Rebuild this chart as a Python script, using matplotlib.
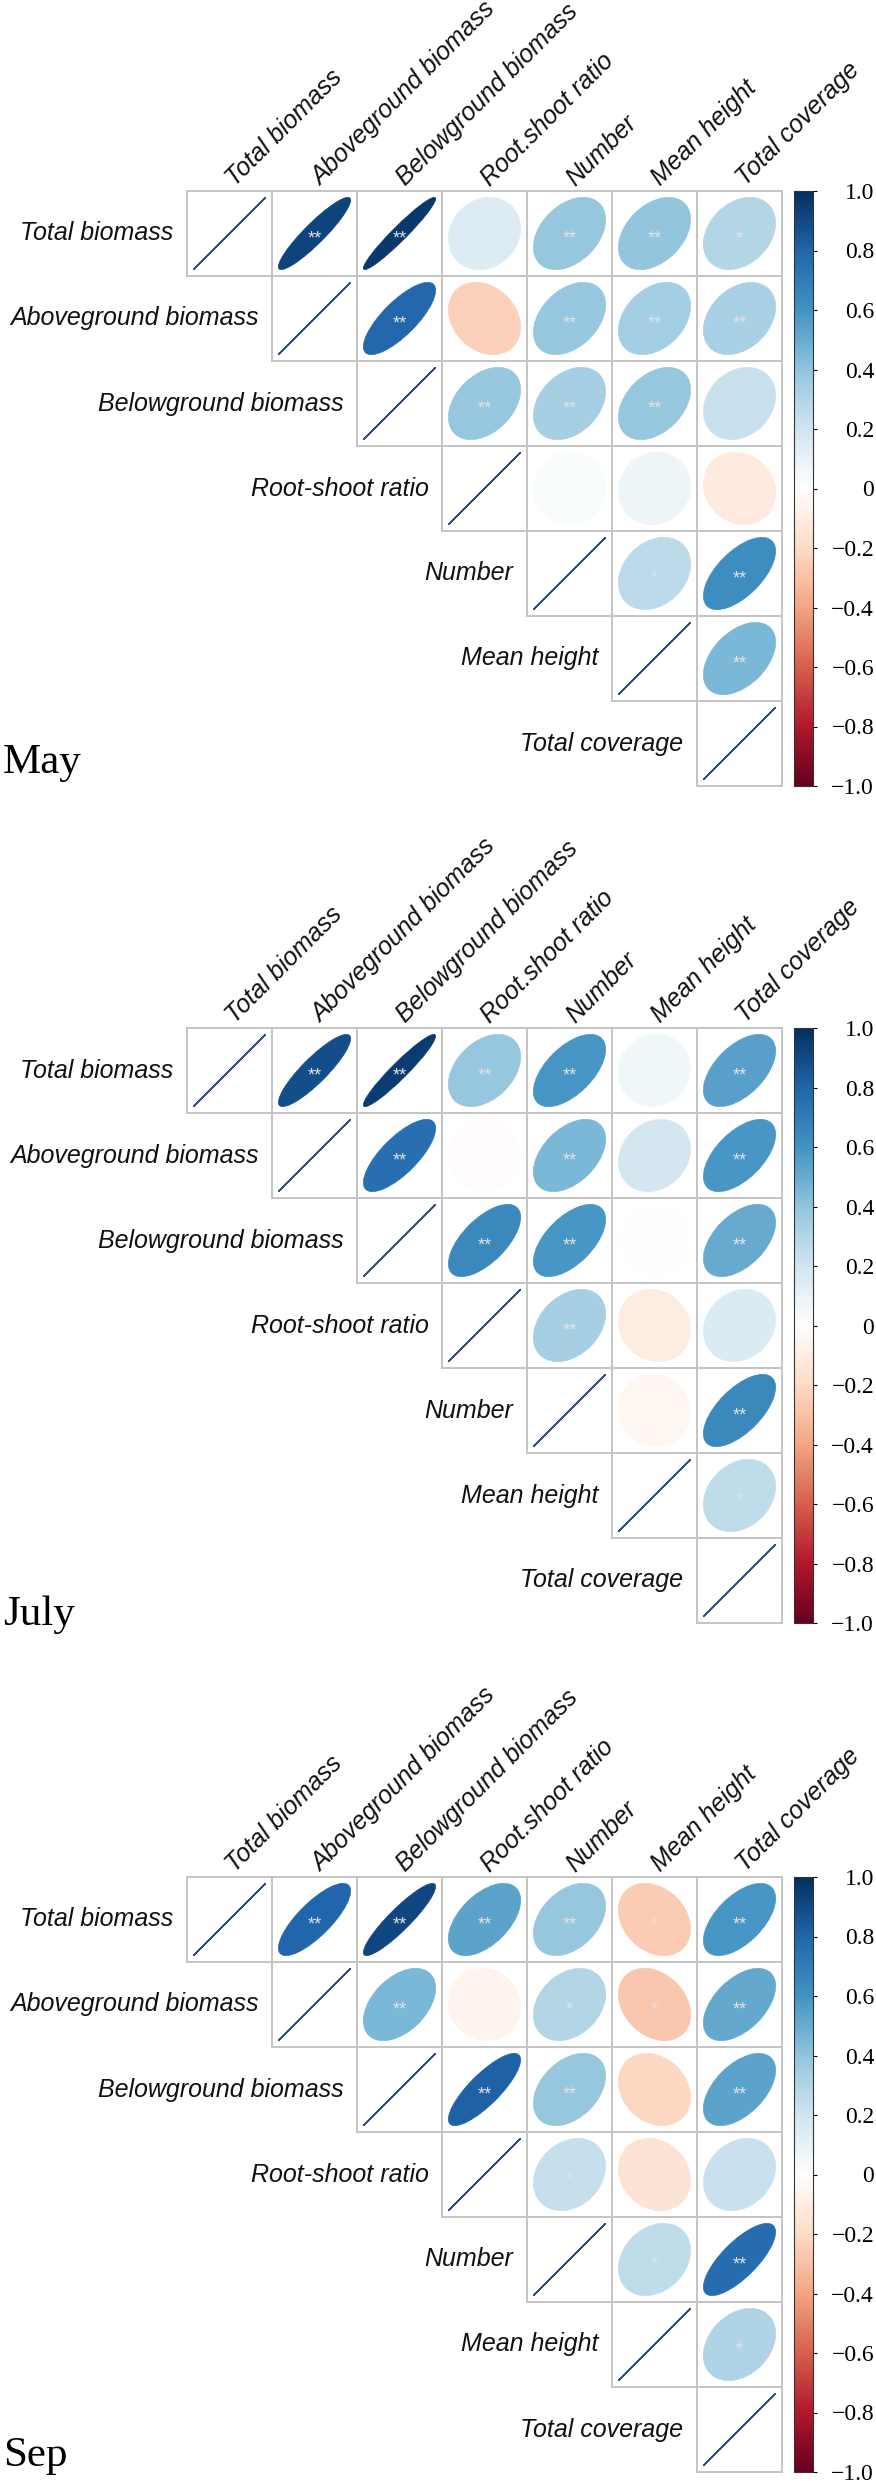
import numpy as np
import matplotlib
matplotlib.use("Agg")
import matplotlib.pyplot as plt
from matplotlib.patches import Ellipse, Rectangle
from matplotlib.colors import LinearSegmentedColormap, Normalize
from matplotlib.colorbar import ColorbarBase

ROW_LABELS = ["Total biomass", "Aboveground biomass", "Belowground biomass",
              "Root-shoot ratio", "Number", "Mean height", "Total coverage"]
COL_LABELS = ["Total biomass", "Aboveground biomass", "Belowground biomass",
              "Root.shoot ratio", "Number", "Mean height", "Total coverage"]
MONTHS = ["May", "July", "Sep"]

# upper triangle (above the diagonal), row by row
MAY_R = [
    [0.92, 0.96, 0.14, 0.38, 0.39, 0.29],
    [0.78, -0.24, 0.38, 0.34, 0.32],
    [0.38, 0.33, 0.38, 0.22],
    [0.02, 0.07, -0.12],
    [0.26, 0.62],
    [0.45],
]
MAY_SIG = [
    ["**", "**", "", "**", "**", "*"],
    ["**", "", "**", "**", "**"],
    ["**", "**", "**", ""],
    ["", "", ""],
    ["*", "**"],
    ["**"],
]
JULY_R = [
    [0.88, 0.95, 0.38, 0.58, 0.06, 0.54],
    [0.75, -0.02, 0.45, 0.18, 0.58],
    [0.64, 0.58, -0.01, 0.50],
    [0.33, -0.11, 0.16],
    [-0.05, 0.64],
    [0.25],
]
JULY_SIG = [
    ["**", "**", "**", "**", "", "**"],
    ["**", "", "**", "", "**"],
    ["**", "**", "", "**"],
    ["**", "", ""],
    ["", "**"],
    ["*"],
]
SEP_R = [
    [0.79, 0.91, 0.53, 0.38, -0.26, 0.58],
    [0.45, -0.07, 0.29, -0.28, 0.51],
    [0.82, 0.38, -0.22, 0.53],
    [0.23, -0.16, 0.22],
    [0.25, 0.76],
    [0.30],
]
SEP_SIG = [
    ["**", "**", "**", "**", "*", "**"],
    ["**", "", "*", "*", "**"],
    ["**", "**", "", "**"],
    ["*", "", ""],
    ["*", "**"],
    ["*"],
]
PANELS = [(MAY_R, MAY_SIG), (JULY_R, JULY_SIG), (SEP_R, SEP_SIG)]
CBAR_TICKS = [1.0, 0.8, 0.6, 0.4, 0.2, 0.0, -0.2, -0.4, -0.6, -0.8, -1.0]

RDBU = ["#67001F", "#B2182B", "#D6604D", "#F4A582", "#FDDBC7", "#FFFFFF",
        "#D1E5F0", "#92C5DE", "#4393C3", "#2166AC", "#053061"]
cmap = LinearSegmentedColormap.from_list("corr", RDBU, N=200)
norm = Normalize(-1, 1)

W, H = 876, 2481
GRID_LEFT, CELL = 187, 85
TOPS = [191, 1028, 1877]
MONTH_BASE = [773, 1625, 2466]
N = len(ROW_LABELS)

fig = plt.figure(figsize=(W / 100, H / 100), dpi=100)
lab_font = dict(family=["Liberation Sans", "DejaVu Sans"], style="italic",
                size=18, color="#111111")


def cell_ellipse(r, xc, yc, **kw):
    return Ellipse((xc, yc), width=0.85 * np.sqrt(1 + r),
                   height=0.85 * np.sqrt(max(1 - r, 0)), angle=45, **kw)


for k, (vals, sigs) in enumerate(PANELS):
    top = TOPS[k]
    side = N * CELL
    ax = fig.add_axes([GRID_LEFT / W, 1 - (top + side) / H, side / W, side / H])
    ax.set_xlim(0, N)
    ax.set_ylim(0, N)
    ax.axis("off")

    for i in range(N):
        yc = N - i - 0.5
        for j in range(i, N):
            ax.add_patch(Rectangle((j, N - i - 1), 1, 1, fill=False,
                                   ec="#c4c4c4", lw=1.4, clip_on=False))
        # diagonal, r = 1
        ax.add_patch(cell_ellipse(1.0, i + 0.5, yc, fc="none",
                                  ec="#2f4f80", lw=1.0))
        for jj, r in enumerate(vals[i] if i < N - 1 else []):
            j = i + 1 + jj
            c = cmap(norm(r))
            ax.add_patch(cell_ellipse(r, j + 0.5, yc, fc=c, ec=c, lw=0.5))
            s = sigs[i][jj]
            if s:
                ax.text(j + 0.5, yc - 0.12, s, ha="center", va="baseline",
                        fontsize=13, color="#e2e2e2",
                        family=["Liberation Sans", "DejaVu Sans"])
        ax.text(i - 0.16, yc, ROW_LABELS[i], ha="right", va="center",
                **lab_font)

    for j in range(N):
        ax.text(j + 0.57, N + 0.05, COL_LABELS[j], rotation=45,
                rotation_mode="anchor", ha="left", va="baseline", **lab_font)

    fig.text(3 / W, 1 - MONTH_BASE[k] / H, MONTHS[k], ha="left",
             va="baseline", fontsize=31,
             family=["Liberation Serif", "DejaVu Serif"])

    cax = fig.add_axes([794 / W, 1 - (top + side) / H, 19 / W, side / H])
    cb = ColorbarBase(cax, cmap=cmap, norm=norm, ticks=CBAR_TICKS)
    cb.outline.set_linewidth(0.8)
    cb.outline.set_edgecolor("#333333")
    cb.set_ticklabels(["0" if t == 0 else f"{t:.1f}".replace("-", "\u2212")
                       for t in CBAR_TICKS])
    cax.tick_params(length=3, width=0.8, pad=41, labelsize=17)
    for lab in cax.get_yticklabels():
        lab.set_ha("right")
        lab.set_family(["Liberation Serif", "DejaVu Serif"])

fig.savefig("out.png", dpi=100)
